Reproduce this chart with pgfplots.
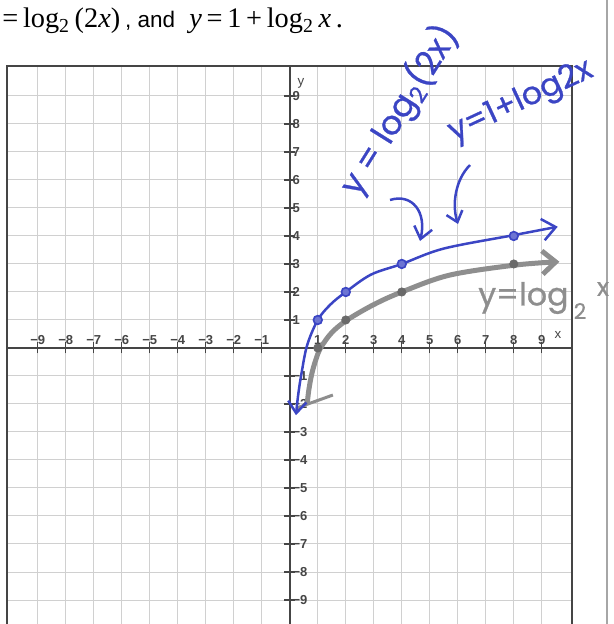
\documentclass[border=0pt]{standalone}
\usepackage{pgfplots}
\pgfplotsset{compat=1.18}
\usetikzlibrary{arrows.meta}
\usepackage{fontspec}
\setmainfont{Liberation Serif}
\newfontfamily\labelsans{Liberation Sans}
\newfontfamily\hand{Poppins}[FakeBold=0.8]

\definecolor{inkblue}{HTML}{3B45C4}
\definecolor{pencil}{HTML}{8E8E8E}
\definecolor{pencildark}{HTML}{6A6A6A}
\definecolor{axisgray}{HTML}{454545}
\definecolor{gridgray}{HTML}{D0D0D0}

\begin{document}
\begin{tikzpicture}
% page: 613 x 624 units of 0.6pt
\useasboundingbox (0,0) rectangle (367.8pt,-374.4pt);
\clip (0,0) rectangle (367.8pt,-374.4pt);

\begin{axis}[
  at={(4.2pt,-39.6pt)}, anchor=north west,
  scale only axis, width=339pt, height=345.6pt,
  xmin=-10.1, xmax=10.08, ymin=-10.5, ymax=10.07,
  axis lines=middle,
  axis line style={draw=axisgray, line width=1.2pt, -},
  minor tick num=0,
  xmajorgrids, ymajorgrids,
  grid style={gridgray, line width=0.6pt},
  xtick={-9,-8,-7,-6,-5,-4,-3,-2,-1,1,2,3,4,5,6,7,8,9},
  xticklabels={−9,−8,−7,−6,−5,−4,−3,−2,−1,1,2,3,4,5,6,7,8,9},
  ytick={-9,-8,-7,-6,-5,-4,-3,-2,-1,1,2,3,4,5,6,7,8,9},
  yticklabels={−9,−8,−7,−6,−5,−4,−3,−2,−1,1,2,3,4,5,6,7,8,9},
  major tick length=6.6pt, tick align=center,
  tick style={axisgray, line width=0.7pt},
  tick label style={font=\labelsans\bfseries\fontsize{7.8}{8}\selectfont, text=axisgray},
  xticklabel style={anchor=south, inner sep=0pt, yshift=5.2pt},
  yticklabel style={anchor=west, inner sep=0pt, xshift=4.8pt},
  clip=false,
]
% outer frame of the grid
\draw[axisgray, line width=1.2pt] (rel axis cs:0,0) rectangle (rel axis cs:1,1);

% y = log2 x, traced in pencil
\addplot[pencil, line width=3pt, smooth, tension=0.55,
  -{Straight Barb[length=8pt,width=14pt]}] coordinates {
  (0.62,-2.00) (0.68,-1.50) (0.78,-0.95) (0.92,-0.45) (1.10,0.00)
  (1.50,0.55) (2.05,1.00) (3.00,1.55) (4.00,2.00) (5.70,2.60)
  (8.05,2.96) (9.63,3.08)};
\draw[pencil, line width=1.8pt] (axis cs:0.23,-2.15) -- (axis cs:1.54,-1.68);
\addplot[only marks, mark=*, mark size=2.5pt,
  mark options={draw=pencildark, fill=pencildark}] coordinates {
  (1,0) (2,1) (4,2) (8,3)};

% y = 1 + log2 x, in ink
\addplot[inkblue, line width=1.5pt, smooth, tension=0.55,
  {Straight Barb[length=7pt,width=11pt]}-{Straight Barb[length=8pt,width=13pt]}] coordinates {
  (0.22,-2.40) (0.31,-1.60) (0.42,-0.90) (0.62,0.10) (1.00,1.00)
  (1.45,1.55) (2.00,2.00) (2.90,2.62) (4.00,3.00) (5.50,3.55)
  (8.00,4.03) (9.57,4.33)};
\addplot[only marks, mark=*, mark size=2.6pt,
  mark options={draw=inkblue, fill=inkblue!75, line width=1pt}] coordinates {
  (1,1) (2,2) (4,3) (8,4)};
\end{axis}

\begin{scope}[x=0.6pt, y=-0.6pt]
% heading line
\node[anchor=base west, inner sep=0pt, font=\fontsize{17}{19}\selectfont] at (2,28)
  {=\,log\textsubscript{2}\,(2\textit{x})\,{\labelsans\fontsize{13.5}{15}\selectfont, and}\enspace
   \textit{y}\,=\,1\,+\,log\textsubscript{2}\,\textit{x}\,.};

% axis letters
\node[font=\labelsans\fontsize{8}{8}\selectfont, text=axisgray] at (558,335) {x};
\node[font=\labelsans\fontsize{8}{8}\selectfont, text=axisgray] at (301,83) {y};

% edge of the sheet
\draw[gray!70, line width=0.8pt] (607,0) -- (607,624);

% handwritten notes
\node[inkblue, rotate=58, inner sep=0pt, font=\hand\fontsize{20}{20}\selectfont] at (399,110)
  {y = log\textsubscript{2}(2x)};
\node[inkblue, rotate=25, inner sep=0pt, font=\hand\fontsize{19}{19}\selectfont] at (521,102)
  {y=1+log2x};
\draw[inkblue, line width=1.5pt, -{Straight Barb[length=7pt,width=11pt]}]
  (390,200) .. controls (412,193) and (427,212) .. (420,241);
\draw[inkblue, line width=1.5pt, -{Straight Barb[length=6pt,width=10pt]}]
  (470,165) .. controls (455,180) and (452,205) .. (458,224);

\node[pencil, anchor=west, inner sep=0pt, font=\hand\fontsize{19}{19}\selectfont] at (478,298) {y=log};
\node[pencil, inner sep=0pt, font=\hand\fontsize{13}{13}\selectfont] at (580,311) {2};
\node[pencil, inner sep=0pt, font=\hand\fontsize{15}{15}\selectfont] at (603,289) {x};
\end{scope}
\end{tikzpicture}
\end{document}
